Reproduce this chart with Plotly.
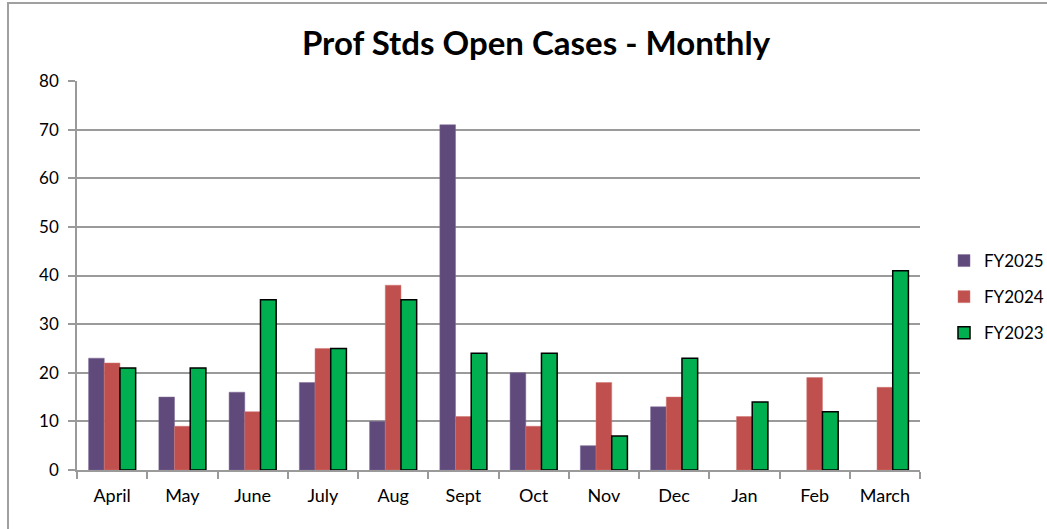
import plotly.graph_objects as go

months = ["April", "May", "June", "July", "Aug", "Sept", "Oct", "Nov", "Dec", "Jan", "Feb", "March"]
fy2025 = [23, 15, 16, 18, 10, 71, 20, 5, 13, None, None, None]
fy2024 = [22, 9, 12, 25, 38, 11, 9, 18, 15, 11, 19, 17]
fy2023 = [21, 21, 35, 25, 35, 24, 24, 7, 23, 14, 12, 41]

W, H = 1047, 529
L, R, T, B = 77, 127, 81, 59
pw, ph = W - L - R, H - T - B

FONT = "Lato, Open Sans, sans-serif"
AX = "#9a9a9a"

fig = go.Figure()
fig.add_bar(x=months, y=fy2025, name="FY2025", legendgroup="a",
            marker=dict(color="#604A7B", line=dict(color="#7f6a98", width=0.5)))
fig.add_bar(x=months, y=fy2024, name="FY2024", legendgroup="b",
            marker=dict(color="#C0504D", line=dict(color="#d07572", width=0.5)))
fig.add_bar(x=months, y=fy2023, name="FY2023", legendgroup="c",
            marker=dict(color="#00B050", line=dict(color="#000000", width=1.5)))

fig.update_layout(
    width=W, height=H, autosize=False,
    margin=dict(l=L, r=R, t=T, b=B, pad=0, autoexpand=False),
    paper_bgcolor="white", plot_bgcolor="white",
    barmode="group", bargap=0.33, bargroupgap=0,
    font=dict(family=FONT, size=17, color="#000000"),
    title=dict(text="<b>Prof Stds Open Cases - Monthly</b>", x=536 / W, xanchor="center", xref="container",
               y=1 - 43 / H, yanchor="middle", yref="container", font=dict(size=33, family=FONT)),
    legend=dict(xref="container", yref="container", x=944 / W, xanchor="left", y=1 - 297 / H, yanchor="middle",
                font=dict(size=17), tracegroupgap=11, itemwidth=30, traceorder="grouped",
                bgcolor="rgba(0,0,0,0)"),
    xaxis=dict(showline=True, linecolor=AX, linewidth=1.5, ticks="outside", tickson="boundaries",
               ticklen=7, tickcolor=AX, tickwidth=1.5, tickfont=dict(size=18),
               ticklabelstandoff=9),
    yaxis=dict(range=[0, 80], dtick=10, showline=True, linecolor=AX, linewidth=1.5,
               ticks="outside", ticklen=7, tickcolor=AX, tickwidth=1.5,
               showgrid=True, gridcolor=AX, gridwidth=1.5, zeroline=False,
               tickfont=dict(size=17), ticklabelstandoff=6),
    shapes=[dict(type="rect", xref="paper", yref="paper",
                 x0=(8 - L) / pw, x1=(1060 - L) / pw, y0=(470 - 540) / ph, y1=(470 - 3) / ph,
                 line=dict(color="#a0a0a0", width=2), layer="below")],
)

fig.write_html("out.html", config={"displayModeBar": False},
               post_script="document.body.style.margin='0';")
